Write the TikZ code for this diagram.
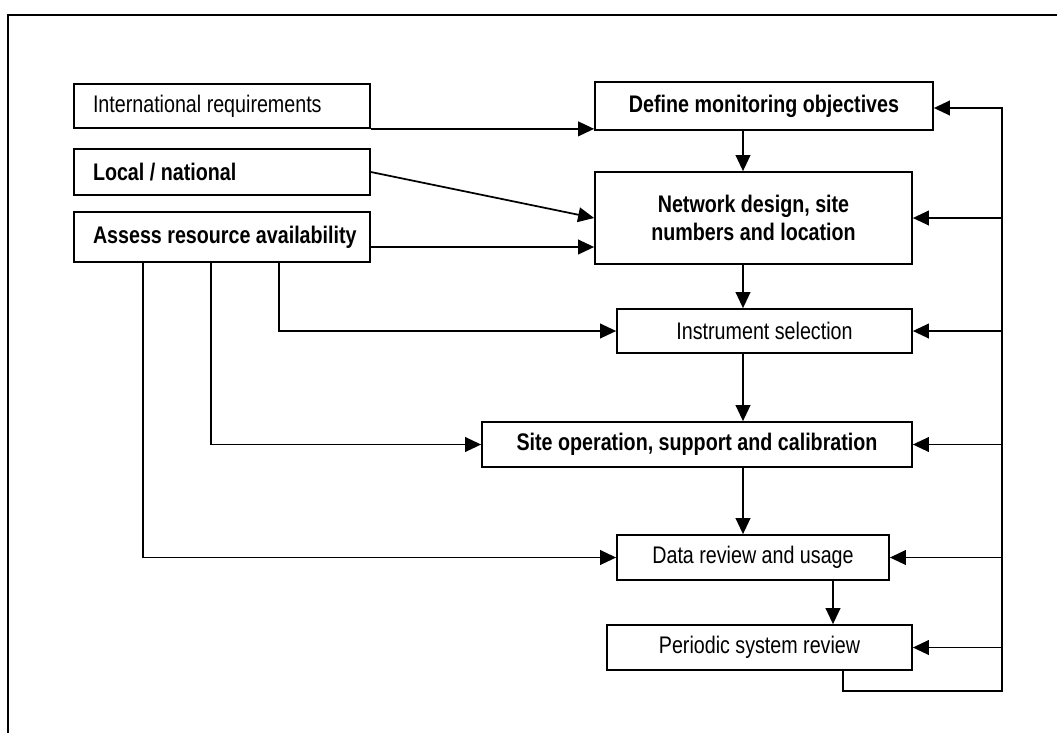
\documentclass[tikz,border=0pt]{standalone}
\usepackage{fontspec}
\IfFontExistsTF{Liberation Sans Narrow}
  {\setmainfont{Liberation Sans Narrow}}
  {\setmainfont[FakeStretch=0.82]{Liberation Sans}}
\usetikzlibrary{arrows.meta}

\tikzset{
  box/.style={draw, line width=1.3pt, rectangle, inner ysep=0pt,
    font=\fontsize{18}{21}\selectfont},
  boldbox/.style={box, font=\bfseries\fontsize{18}{21}\selectfont},
  leftbox/.style={text width=193.5pt, inner xsep=14.25pt, align=flush left,
    minimum width=222pt},
  link/.style={line width=1.3pt, -{Triangle[length=12pt,width=11pt]}},
  wire/.style={line width=1.3pt},
}

\begin{document}
\begin{tikzpicture}[x=0.75pt,y=-0.75pt]
  \useasboundingbox (0,0) rectangle (1057,733);

  % frame
  \draw[wire] (1057,15) -- (8,15) -- (8,733);

  % inputs on the left
  \node[box, leftbox, minimum height=33pt]      (intl)   at (222,106)   {\mbox{International requirements}};
  \node[boldbox, leftbox, minimum height=34.5pt] (local)  at (222,172)   {\mbox{Local / national}};
  \node[boldbox, leftbox, minimum height=37.5pt] (assess) at (222,237)   {\mbox{Assess resource availability}};

  % main chain
  \node[boldbox, minimum width=253.5pt, minimum height=36pt]  (define)   at (764,106)   {Define monitoring objectives};
  \node[boldbox, minimum width=237.75pt, minimum height=69pt, align=center]
                                                               (net)      at (753.5,218) {Network design, site\\numbers and location};
  \node[box, minimum width=221.25pt, minimum height=33pt]      (instr)    at (764.5,331) {Instrument selection};
  \node[boldbox, minimum width=322.5pt, minimum height=33.75pt] (site)    at (697,444.5) {Site operation, support and calibration};
  \node[box, minimum width=204pt, minimum height=33.75pt]      (data)     at (753,557.5) {Data review and usage};
  \node[box, minimum width=228.75pt, minimum height=33.75pt]   (periodic) at (759.5,647.5) {Periodic system review};

  % helper positions for vertical runs
  \coordinate (spine)  at (743,0);
  \coordinate (spine2) at (833,0);
  \coordinate (f1) at (279,0);
  \coordinate (f2) at (211,0);
  \coordinate (f3) at (143,0);
  \coordinate (lp)  at (843,691);
  \coordinate (bus) at (1002,691);

  % inputs into the chain
  \draw[link] (intl.south east) -- (intl.south east -| define.west);
  \draw[link] (local.east) -- (net.west);
  \draw[link] ([yshift=-7.5pt]assess.east) -- ([yshift=-7.5pt]assess.east -| net.west);

  % chain
  \draw[link] (define.south -| spine) -- (net.north -| spine);
  \draw[link] (net.south -| spine) -- (instr.north -| spine);
  \draw[link] (instr.south -| spine) -- (site.north -| spine);
  \draw[link] (site.south -| spine) -- (data.north -| spine);
  \draw[link] (data.south -| spine2) -- (periodic.north -| spine2);

  % resources feeding each stage
  \draw[link] (assess.south -| f1) |- (instr.west);
  \draw[link] (assess.south -| f2) |- (site.west);
  \draw[link] (assess.south -| f3) |- (data.west);

  % feedback loop
  \draw[link] (periodic.south -| lp) -- (lp) -- (bus) -- ([yshift=-1.5pt]bus |- define.east) -- ([yshift=-1.5pt]define.east);
  \draw[link] (bus |- net.east) -- (net.east);
  \draw[link] (bus |- instr.east) -- (instr.east);
  \draw[link] (bus |- site.east) -- (site.east);
  \draw[link] (bus |- data.east) -- (data.east);
  \draw[link] (bus |- periodic.east) -- (periodic.east);
\end{tikzpicture}
\end{document}
